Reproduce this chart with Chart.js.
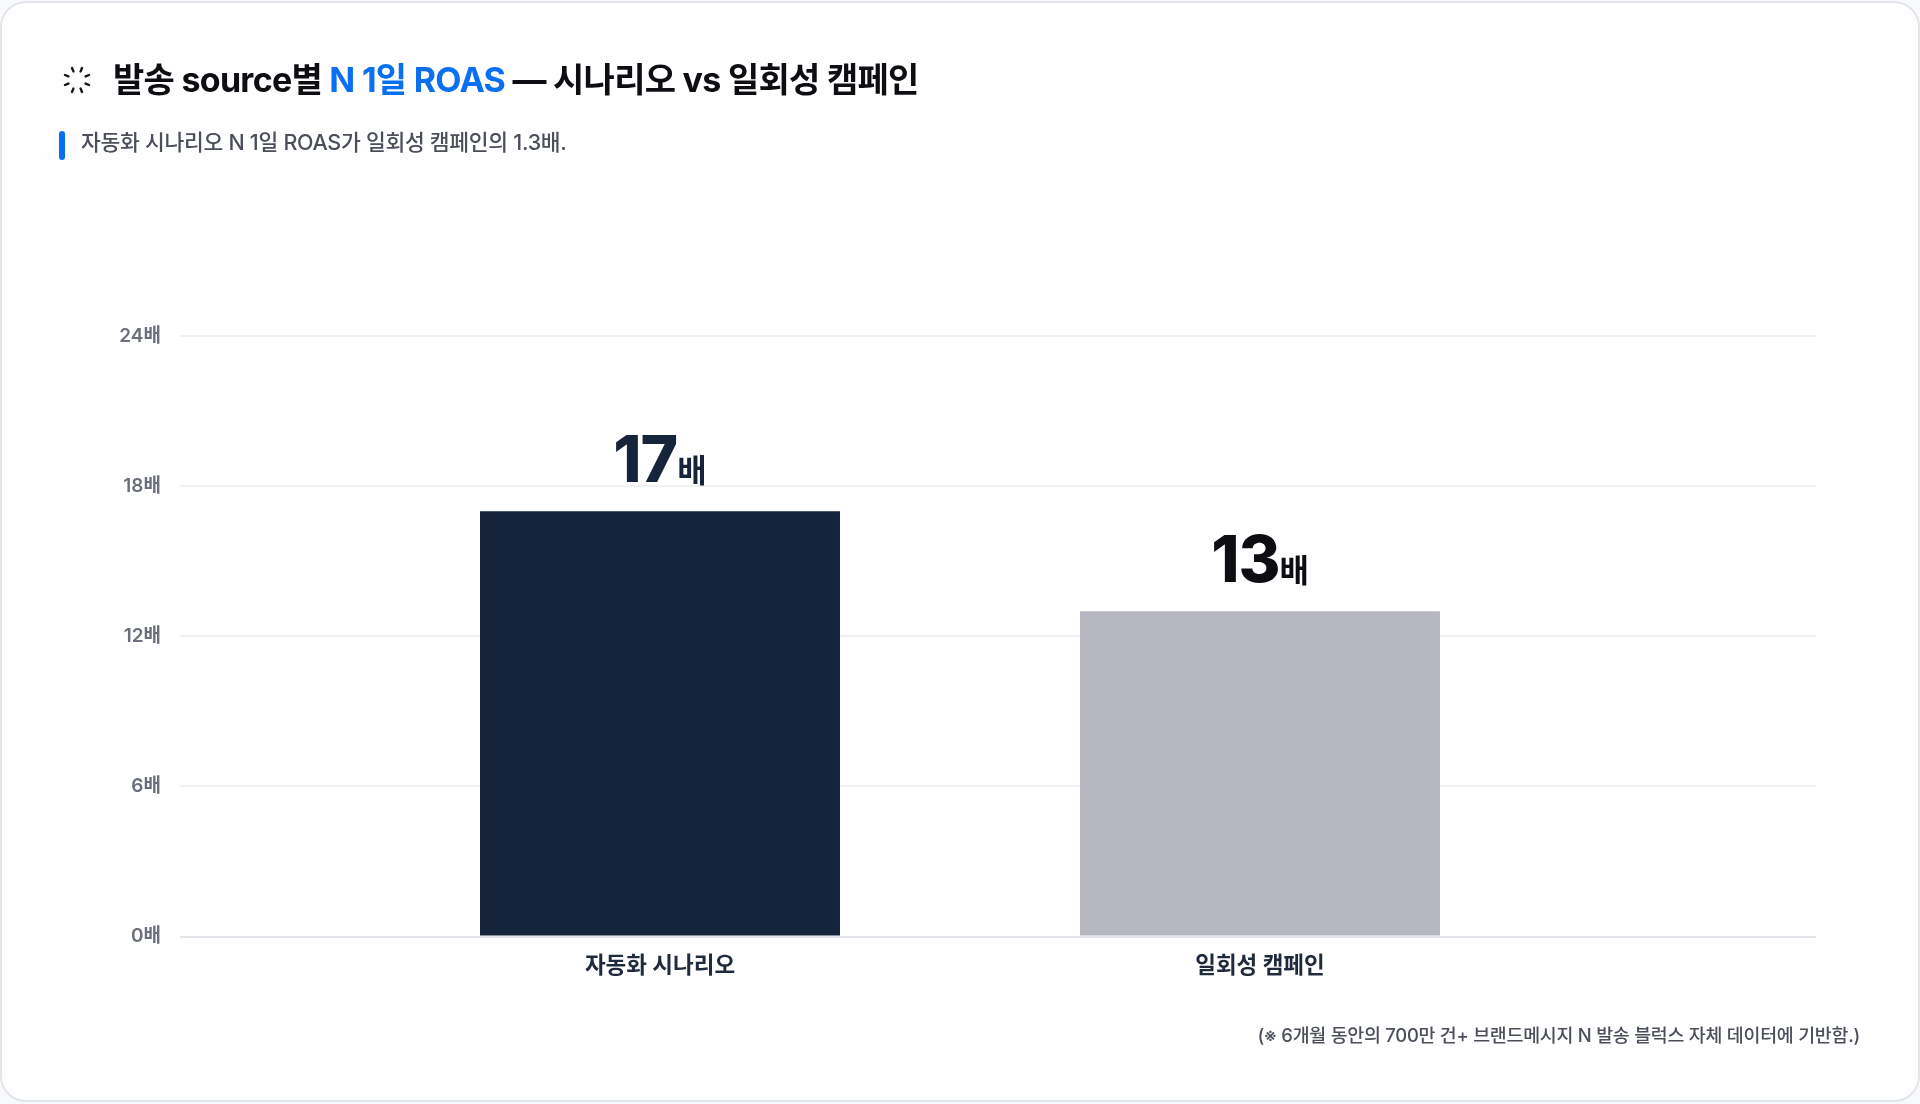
<!DOCTYPE html>
<html lang="ko">
<head>
<meta charset="utf-8">
<script src="https://cdn.jsdelivr.net/npm/chart.js@4"></script>
<style>
html,body{margin:0;padding:0;background:#f8f9fb;width:1920px;height:1104px;overflow:hidden;}
body{font-family:Inter,"Noto Sans CJK KR",sans-serif;position:relative;}
#card{position:absolute;left:0px;top:1px;width:1920px;height:1101px;background:#fff;border:2px solid #e3e5ec;border-radius:26px;box-sizing:border-box;}
#wrap{position:absolute;left:0;top:0;width:1920px;height:1104px;}
.t{position:absolute;white-space:nowrap;}
#title{left:113px;top:56px;font-size:34px;line-height:48px;font-weight:700;color:#0d0d12;letter-spacing:-0.72px;}
#title span{color:#0b6ff2;}
#sub{left:81px;top:127px;font-size:21.5px;line-height:30px;color:#4b4f5a;font-weight:500;letter-spacing:-0.28px;}
#bar{position:absolute;left:59px;top:131px;width:6px;height:29px;border-radius:3px;background:#0b6ff2;}
#note{right:60px;top:1021px;font-size:18.4px;line-height:28px;color:#4b4f5a;font-weight:500;letter-spacing:-0.25px;}
#icon{position:absolute;left:57px;top:60px;}
</style>
</head>
<body>
<div id="card"></div>
<div id="wrap"><canvas id="c" width="1920" height="1104"></canvas></div>
<svg id="icon" width="40" height="40" viewBox="-20 -20 40 40" stroke="#14161f" stroke-width="2.4" stroke-linecap="round">
<line x1="3.6" y1="-8.6" x2="5" y2="-12"/><line x1="8.6" y1="-3.6" x2="12" y2="-5"/>
<line x1="8.6" y1="3.6" x2="12" y2="5"/><line x1="3.6" y1="8.6" x2="5" y2="12"/>
<line x1="-3.6" y1="8.6" x2="-5" y2="12"/><line x1="-8.6" y1="3.6" x2="-12" y2="5"/>
<line x1="-8.6" y1="-3.6" x2="-12" y2="-5"/><line x1="-3.6" y1="-8.6" x2="-5" y2="-12"/>
</svg>
<div class="t" id="title">발송 source별 <span>N 1일 ROAS</span> — 시나리오 vs 일회성 캠페인</div>
<div id="bar"></div>
<div class="t" id="sub">자동화 시나리오 N 1일 ROAS가 일회성 캠페인의 1.3배.</div>
<div class="t" id="note">(※ 6개월 동안의 700만 건+ 브랜드메시지 N 발송 블럭스 자체 데이터에 기반함.)</div>
<script>
const FONT = 'Inter, "Noto Sans CJK KR", sans-serif';
const categories = ['자동화 시나리오', '일회성 캠페인'];
const roasValues = [17, 13];
const barColors = ['#16243b', '#b6b7c1'];
const valueColors = ['#16243b', '#0d0d12'];
const yTicks = [0, 6, 12, 18, 24];
const unit = '배';

const valueLabels = {
  id: 'valueLabels',
  afterDatasetsDraw(chart) {
    const ctx = chart.ctx;
    const meta = chart.getDatasetMeta(0);
    meta.data.forEach((el, i) => {
      const num = String(roasValues[i]);
      ctx.save();
      ctx.textBaseline = 'alphabetic';
      ctx.textAlign = 'left';
      ctx.fillStyle = valueColors[i];
      ctx.font = '800 64px ' + FONT;
      ctx.letterSpacing = '-1px';
      const w1 = ctx.measureText(num).width;
      ctx.font = '700 32px ' + FONT;
      ctx.letterSpacing = '0px';
      const w2 = ctx.measureText(unit).width;
      const x0 = el.x - (w1 + w2) / 2;
      const y = el.y - 29;
      ctx.font = '800 64px ' + FONT;
      ctx.letterSpacing = '-1px';
      ctx.fillText(num, x0, y);
      ctx.font = '700 32px ' + FONT;
      ctx.letterSpacing = '0px';
      ctx.fillText(unit, x0 + w1, y);
      ctx.restore();
    });
  }
};

new Chart(document.getElementById('c'), {
  type: 'bar',
  data: {
    datasets: [{
      data: roasValues.map((v, i) => ({ x: i, y: v })),
      backgroundColor: barColors,
      borderWidth: 0,
      barPercentage: 0.6,
      categoryPercentage: 1
    }]
  },
  options: {
    responsive: false,
    animation: false,
    devicePixelRatio: 1,
    layout: { padding: { top: 336, right: 104, left: 0, bottom: 0 } },
    plugins: { legend: { display: false }, tooltip: { enabled: false } },
    scales: {
      x: {
        type: 'linear',
        offset: false,
        min: -0.8,
        max: 1.9267,
        afterBuildTicks(s) { s.ticks = categories.map((_, i) => ({ value: i })); },
        afterFit(s) { s.height = 167.5; },
        grid: { display: false },
        border: { display: false },
        ticks: {
          autoSkip: false, maxRotation: 0, padding: 8.5,
          callback: v => categories[v] ?? '',
          color: '#1f2a3d',
          font: { family: FONT, size: 22.5, weight: '700' }
        }
      },
      y: {
        min: 0,
        max: 24,
        afterBuildTicks(s) { s.ticks = yTicks.map(v => ({ value: v })); },
        afterFit(s) { s.width = 180; },
        border: { display: false },
        grid: {
          drawTicks: false,
          lineWidth: 2,
          color: c => c.tick && c.tick.value === 0 ? '#e4e5ea' : '#f1f1f4'
        },
        ticks: {
          padding: 19,
          callback: v => v + unit,
          color: '#6b6f7c',
          font: { family: FONT, size: 19, weight: '600' }
        }
      }
    }
  },
  plugins: [valueLabels]
});
</script>
</body>
</html>
